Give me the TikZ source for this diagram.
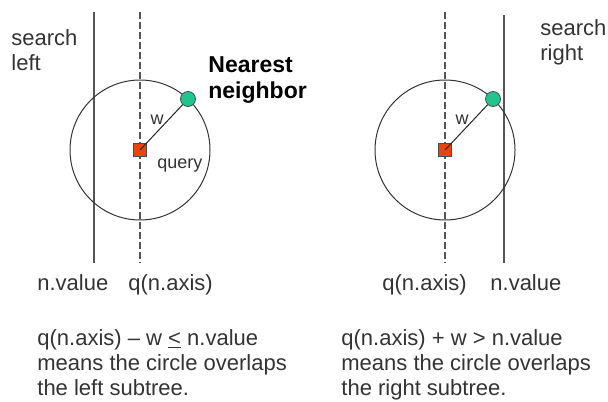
\documentclass[tikz,border=0pt]{standalone}
\usepackage{fontspec}
\setmainfont{Liberation Sans}
\usetikzlibrary{positioning}
\definecolor{ink}{HTML}{333333}
\definecolor{rulegray}{HTML}{555555}
\definecolor{qred}{HTML}{E8440C}
\definecolor{nngreen}{HTML}{22C48E}

\begin{document}
\begin{tikzpicture}[x=0.5pt, y=-0.5pt,
  txt/.style={anchor=base west, inner sep=0pt, text=ink, align=left, font=\fontsize{11}{12.5}\selectfont},
  small/.style={inner sep=0pt, text=ink, font=\fontsize{9}{10}\selectfont},
  boldtxt/.style={anchor=base west, inner sep=0pt, align=left, font=\fontsize{11.5}{13}\selectfont\bfseries},
  cutline/.style={rulegray, line width=0.7pt},
  axisline/.style={rulegray, line width=0.7pt, dash pattern=on 3.5pt off 1.5pt},
  ball/.style={black!80, line width=0.5pt},
  qbox/.style={rectangle, draw=black!70, fill=qred, minimum size=6.5pt, inner sep=0pt},
  nn/.style={circle, draw=black!70, fill=nngreen, minimum size=7.5pt, inner sep=0pt},
  wline/.style={black!85, line width=0.5pt}
]
  \useasboundingbox (0,0) rectangle (608,401);

  % left case: search left
  \coordinate (s1t) at (94,12);  \coordinate (s1b) at (94,263);
  \coordinate (d1t) at (140,12); \coordinate (d1b) at (140,263);
  \coordinate (c1) at (140,150);
  \draw[cutline] (s1t) -- (s1b);
  \draw[axisline] (d1t) -- (d1b);
  \draw[ball] (c1) circle[radius=70];
  \node[qbox] (q1) at (c1) {};
  \node[nn] (n1) at (188,99) {};
  \draw[wline] (q1.center) -- (n1);
  \node[small] (w1) at (157,120) {w};
  \node[small, anchor=base west] (lq) at (157,168) {query};

  \node[txt] (sl) at (11,70) {search\\left};
  \node[boldtxt] (nnl) at (208,98) {Nearest\\neighbor};
  \node[txt] (v1) at (37,290) {n.value};
  \node[txt] (a1) at (128,290) {q(n.axis)};
  \node[txt] (f1) at (37,395) {q(n.axis) – w \underline{<} n.value\\means the circle overlaps\\the left subtree.};

  % right case: search right
  \coordinate (s2t) at (504,15);  \coordinate (s2b) at (504,263);
  \coordinate (d2t) at (445,12); \coordinate (d2b) at (445,263);
  \coordinate (c2) at (445,150);
  \draw[cutline] (s2t) -- (s2b);
  \draw[axisline] (d2t) -- (d2b);
  \draw[ball] (c2) circle[radius=70];
  \node[qbox] (q2) at (c2) {};
  \node[nn] (n2) at (493,99) {};
  \draw[wline] (q2.center) -- (n2);
  \node[small] (w2) at (462,120) {w};

  \node[txt] (sr) at (540,61) {search\\right};
  \node[txt] (a2) at (382,290) {q(n.axis)};
  \node[txt] (v2) at (490,290) {n.value};
  \node[txt] (f2) at (341,395) {q(n.axis) + w > n.value\\means the circle overlaps\\the right subtree.};
\end{tikzpicture}
\end{document}
